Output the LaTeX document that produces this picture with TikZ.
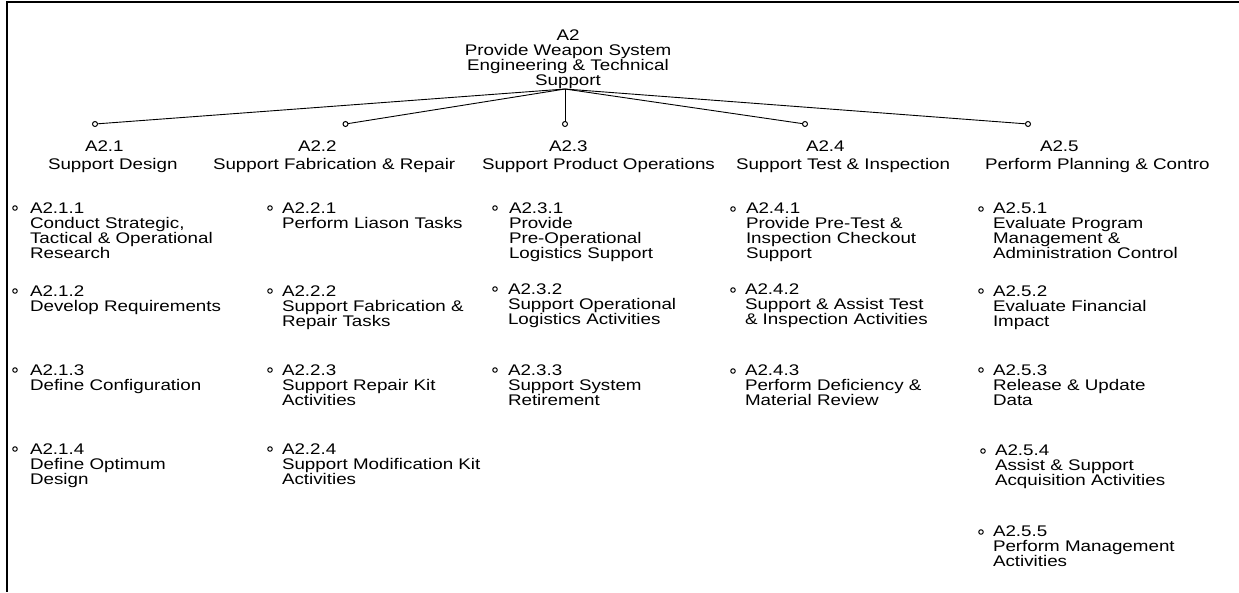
\documentclass[tikz,border=0pt]{standalone}
\usepackage{fontspec}
\setmainfont{Liberation Sans}[FakeStretch=1.22]
% stacked lines whose reference point is the baseline of the first line
\newcommand\leftlines[1]{\vtop{\halign{##\hfil\cr#1\crcr}}}
\newcommand\midlines[1]{\vtop{\halign{\hfil##\hfil\cr#1\crcr}}}
\begin{document}
\begin{tikzpicture}[x=1pt,y=-1pt,
  every node/.style={inner sep=0pt, outer sep=0pt},
  txt/.style={font=\fontsize{15.4}{15}\selectfont},
  rootlbl/.style={txt, anchor=base},
  numlbl/.style={txt, anchor=base west},
  leaf/.style={txt, anchor=base west},
  hub/.style={circle, draw, fill=white, minimum size=5pt, line width=1pt},
  dot/.style={circle, draw, fill=white, minimum size=4.5pt, line width=1pt},
  edge/.style={line width=0.9pt}
]
\useasboundingbox (0,0) rectangle (1239,592);
% frame
\draw[line width=2.2pt] (1239,2) -- (7,2) -- (7,592);

% root
\node[rootlbl] (root) at (568,40) {\midlines{A2\cr Provide Weapon System\cr Engineering \& Technical\cr Support}};
\coordinate (apex) at (565,89);

% second level hubs
\node[hub] (c1) at (95,124) {};
\node[hub] (c2) at (345.5,124) {};
\node[hub] (c3) at (565,124) {};
\node[hub] (c4) at (805,124) {};
\node[hub] (c5) at (1028,124) {};
\foreach \c in {c1,c2,c3,c4,c5} \draw[edge] (apex) -- (\c);

% second level labels
\node[numlbl] (n1) at (85,151) {A2.1};
\node[numlbl] (m1) at (48,169) {Support Design};
\node[numlbl] (n2) at (298,151) {A2.2};
\node[numlbl] (m2) at (213,169) {Support Fabrication \& Repair};
\node[numlbl] (n3) at (549,151) {A2.3};
\node[numlbl] (m3) at (482,169) {Support Product Operations};
\node[numlbl] (n4) at (806,151) {A2.4};
\node[numlbl] (m4) at (736,169) {Support Test \& Inspection};
\node[numlbl] (n5) at (1040,151) {A2.5};
\node[numlbl] (m5) at (985,169) {Perform Planning \& Contro};

% column A2.1
\node[dot] (b211) at (15,208) {};
\node[leaf] (t211) at (30,213) {\leftlines{A2.1.1\cr Conduct Strategic,\cr Tactical \& Operational\cr Research}};
\node[dot] (b212) at (15,291) {};
\node[leaf] (t212) at (30,296) {\leftlines{A2.1.2\cr Develop Requirements}};
\node[dot] (b213) at (15,370) {};
\node[leaf] (t213) at (30,375) {\leftlines{A2.1.3\cr Define Configuration}};
\node[dot] (b214) at (15,449) {};
\node[leaf] (t214) at (30,454) {\leftlines{A2.1.4\cr Define Optimum\cr Design}};

% column A2.2
\node[dot] (b221) at (270,208) {};
\node[leaf] (t221) at (282,213) {\leftlines{A2.2.1\cr Perform Liason Tasks}};
\node[dot] (b222) at (270,291) {};
\node[leaf] (t222) at (282,296) {\leftlines{A2.2.2\cr Support Fabrication \&\cr Repair Tasks}};
\node[dot] (b223) at (270,370) {};
\node[leaf] (t223) at (282,375) {\leftlines{A2.2.3\cr Support Repair Kit\cr Activities}};
\node[dot] (b224) at (270,449) {};
\node[leaf] (t224) at (282,454) {\leftlines{A2.2.4\cr Support Modification Kit\cr Activities}};

% column A2.3
\node[dot] (b231) at (495,208) {};
\node[leaf] (t231) at (509,213) {\leftlines{A2.3.1\cr Provide\cr Pre-Operational\cr Logistics Support}};
\node[dot] (b232) at (495,289) {};
\node[leaf] (t232) at (508,294) {\leftlines{A2.3.2\cr Support Operational\cr Logistics Activities}};
\node[dot] (b233) at (495,370) {};
\node[leaf] (t233) at (508,375) {\leftlines{A2.3.3\cr Support System\cr Retirement}};

% column A2.4
\node[dot] (b241) at (733,209) {};
\node[leaf] (t241) at (746,213) {\leftlines{A2.4.1\cr Provide Pre-Test \&\cr Inspection Checkout\cr Support}};
\node[dot] (b242) at (733,290) {};
\node[leaf] (t242) at (745,294) {\leftlines{A2.4.2\cr Support \& Assist Test\cr \& Inspection Activities}};
\node[dot] (b243) at (733,371) {};
\node[leaf] (t243) at (745,375) {\leftlines{A2.4.3\cr Perform Deficiency \&\cr Material Review}};

% column A2.5
\node[dot] (b251) at (981,209) {};
\node[leaf] (t251) at (993,213) {\leftlines{A2.5.1\cr Evaluate Program\cr Management \&\cr Administration Control}};
\node[dot] (b252) at (981,291) {};
\node[leaf] (t252) at (993,296) {\leftlines{A2.5.2\cr Evaluate Financial\cr Impact}};
\node[dot] (b253) at (981,370) {};
\node[leaf] (t253) at (993,375) {\leftlines{A2.5.3\cr Release \& Update\cr Data}};
\node[dot] (b254) at (983,451) {};
\node[leaf] (t254) at (995,455) {\leftlines{A2.5.4\cr Assist \& Support\cr Acquisition Activities}};
\node[dot] (b255) at (981,532) {};
\node[leaf] (t255) at (993,536) {\leftlines{A2.5.5\cr Perform Management\cr Activities}};
\end{tikzpicture}
\end{document}
